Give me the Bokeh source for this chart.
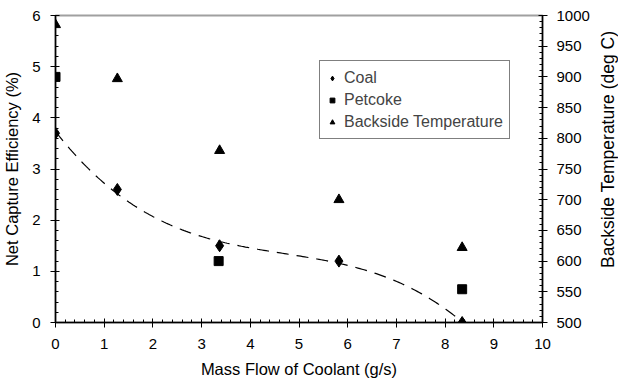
import numpy as np
from bokeh.plotting import figure
from bokeh.layouts import row
from bokeh.models import Range1d, LinearAxis, Legend, LegendItem, FixedTicker, Label
from bokeh.embed import file_html
from bokeh.resources import INLINE

# Data
coal_x = [0.0, 1.27, 3.37, 5.82, 8.35]
coal_y = [3.7, 2.6, 1.5, 1.2, 0.0]
pet_x = [0.0, 3.35, 8.35]
pet_y = [4.8, 1.2, 0.65]
temp_x = [0.0, 1.27, 3.37, 5.82, 8.35]
temp_y = [985, 897, 780, 700, 622]

x_ticks = list(range(0, 11))
y_ticks = list(range(0, 7))
t_ticks = list(range(500, 1001, 50))

FONT = "Liberation Sans"

p = figure(width=594, height=383, output_backend="svg", toolbar_location=None,
           x_range=Range1d(0, 10), y_range=Range1d(0, 6),
           min_border_left=55, min_border_right=52, min_border_top=15, min_border_bottom=61)
p.extra_y_ranges = {"temp": Range1d(500, 1000)}
p.grid.visible = False
p.outline_line_color = "#a0a0a0"
p.outline_line_width = 2
p.background_fill_color = "white"
p.border_fill_color = "white"

# polynomial trendline through coal data (Excel-style)
coef = np.polyfit(coal_x, coal_y, 3)
tx = np.linspace(min(coal_x), max(coal_x), 200)
p.line(tx, np.polyval(coef, tx), line_color="black", line_width=1.2, line_dash="12 8")

r_coal = p.scatter(coal_x, coal_y, marker="diamond", size=12, color="black")
r_pet = p.scatter(pet_x, pet_y, marker="square", size=9, color="black")
r_temp = p.scatter(temp_x, temp_y, marker="triangle", size=10, color="black", y_range_name="temp")

def style(ax, ticks, minor):
    ax.ticker = FixedTicker(ticks=ticks, minor_ticks=minor)
    ax.axis_line_color = "black"
    ax.axis_line_width = 1.5
    ax.major_tick_line_color = "black"
    ax.minor_tick_line_color = "black"
    ax.major_tick_in = 4
    ax.major_tick_out = 5
    ax.minor_tick_in = 3
    ax.minor_tick_out = 0
    ax.major_label_text_font = FONT
    ax.major_label_text_font_size = "15px"
    ax.major_label_text_color = "black"
    ax.axis_label_text_font = FONT
    ax.axis_label_text_font_size = "16.5px"
    ax.axis_label_text_font_style = "normal"
    ax.axis_label_text_color = "black"

xa = p.xaxis[0]
style(xa, x_ticks, [i / 5 for i in range(0, 51)])
xa.axis_label = "Mass Flow of Coolant (g/s)"
xa.major_label_standoff = 11
xa.axis_label_standoff = 8

ya = p.yaxis[0]
style(ya, y_ticks, [i / 5 for i in range(0, 31)])
ya.axis_label = "Net Capture Efficiency (%)"
ya.major_label_standoff = 10
ya.axis_label_standoff = 8

ra = LinearAxis(y_range_name="temp")
style(ra, t_ticks, list(range(500, 1001, 10)))
ra.major_label_standoff = 9
p.add_layout(ra, "right")

legend = Legend(items=[
    LegendItem(label="Coal", renderers=[r_coal]),
    LegendItem(label="Petcoke", renderers=[r_pet]),
    LegendItem(label="Backside Temperature", renderers=[r_temp]),
], location=(264, 183))
legend.border_line_color = "black"
legend.border_line_width = 1
legend.background_fill_color = "white"
legend.background_fill_alpha = 1
legend.label_text_font = FONT
legend.label_text_font_size = "16px"
legend.label_height = 21
legend.glyph_width = 12
legend.glyph_height = 12
legend.spacing = 1
legend.padding = 6
legend.margin = 0
legend.label_standoff = 6
p.add_layout(legend)

# narrow strip holding the right-hand axis title, reading bottom to top
p2 = figure(width=24, height=383, output_backend="svg", toolbar_location=None,
            x_range=Range1d(0, 24), y_range=Range1d(0, 383),
            x_axis_location=None, y_axis_location=None,
            min_border_left=0, min_border_right=0, min_border_top=0, min_border_bottom=0)
p2.grid.visible = False
p2.outline_line_color = None
p2.border_fill_color = "white"
p2.background_fill_color = "white"
p2.add_layout(Label(x=13, y=216, text="Backside Temperature (deg C)", angle=90,
                    angle_units="deg", text_align="center", text_baseline="middle",
                    text_font=FONT, text_font_size="17.5px", text_color="black"))

layout = row(p, p2, spacing=0)
open("out.html", "w").write(file_html(layout, INLINE))
